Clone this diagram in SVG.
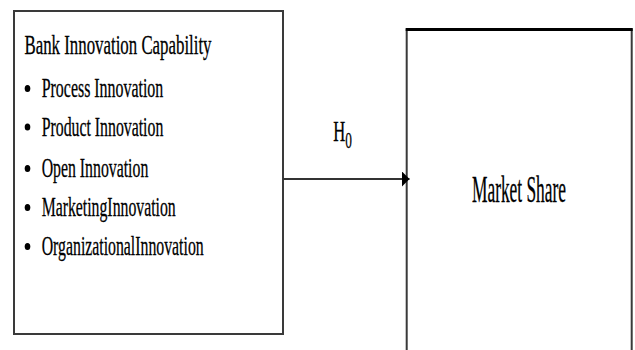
<svg xmlns="http://www.w3.org/2000/svg" width="635" height="350" viewBox="0 0 635 350">
<style>
.t{font-family:"Liberation Serif","Times New Roman",serif;fill:#000;stroke:#000;stroke-width:0.3}
.box{fill:#fff;stroke:#3a3a3a;stroke-width:2}
.conn{stroke:#333;stroke-width:2;fill:none}
</style>
<defs>
<marker id="ah" viewBox="0 0 10 10" refX="10" refY="5" markerWidth="8" markerHeight="16" markerUnits="userSpaceOnUse" orient="auto" preserveAspectRatio="none">
<path d="M0,0 L10,5 L0,10 Z" fill="#000"/>
</marker>
</defs>
<rect width="635" height="350" fill="#fff"/>
<g id="bank-innovation">
<rect class="box" x="14" y="11" width="269" height="323"/>
<text class="t" x="24.5" y="54" font-size="28" textLength="187" lengthAdjust="spacingAndGlyphs">Bank Innovation Capability</text>
<g fill="#000">
<ellipse cx="27.5" cy="88.5" rx="2.8" ry="3.6"/>
<ellipse cx="27.5" cy="127" rx="2.8" ry="3.6"/>
<ellipse cx="27.5" cy="168.5" rx="2.8" ry="3.6"/>
<ellipse cx="27.5" cy="207.5" rx="2.8" ry="3.6"/>
<ellipse cx="27.5" cy="246.5" rx="2.8" ry="3.6"/>
</g>
<text class="t" x="41.7" y="97" font-size="28" textLength="121.6" lengthAdjust="spacingAndGlyphs">Process Innovation</text>
<text class="t" x="41.7" y="135.5" font-size="28" textLength="121.6" lengthAdjust="spacingAndGlyphs">Product Innovation</text>
<text class="t" x="41.7" y="177" font-size="28" textLength="106.6" lengthAdjust="spacingAndGlyphs">Open Innovation</text>
<text class="t" x="41.7" y="216" font-size="28" textLength="134" lengthAdjust="spacingAndGlyphs">MarketingInnovation</text>
<text class="t" x="41.7" y="255" font-size="28" textLength="162" lengthAdjust="spacingAndGlyphs">OrganizationalInnovation</text>
</g>
<g id="market-share">
<rect class="box" x="406.7" y="29.5" width="225" height="340"/>
<line x1="405.7" y1="29.5" x2="632.7" y2="29.5" stroke="#000" stroke-width="3"/>
<text class="t" transform="matrix(0.469 0 0 1 472 201.5)" x="0" y="0" font-size="37" stroke-width="0.5" textLength="200.4" lengthAdjust="spacingAndGlyphs">Market Share</text>
</g>
<g id="connectors">
<line class="conn" x1="283" y1="179" x2="409.5" y2="179" marker-end="url(#ah)"/>
<text class="t" transform="matrix(0.554 0 0 1 333.3 141)" x="0" y="0" font-size="30" stroke-width="0.45">H<tspan dy="7" font-size="24" stroke-width="0.25">0</tspan></text>
</g>
</svg>
